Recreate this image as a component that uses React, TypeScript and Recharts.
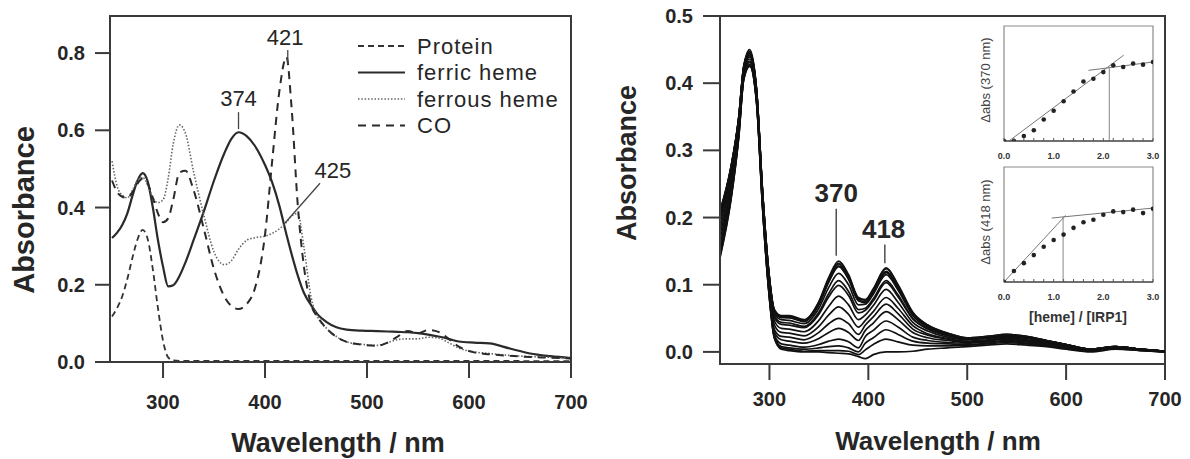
import React from 'react';
import { LineChart, Line, XAxis, YAxis, ReferenceArea, ReferenceLine, ReferenceDot } from 'recharts';

const FONT = '"Liberation Sans", Arial, Helvetica, sans-serif';
const INK = '#262626';
const AXIS = '#3a3a3a';

// ---------------- Panel A : spectra of IRP1 forms ----------------
const wlA = [250, 255, 260, 265, 270, 275, 280, 285, 290, 295, 300, 305, 310, 316, 322, 330, 340, 350, 360, 367,
  374, 382, 390, 400, 407, 414, 421, 426, 432, 438, 445, 452, 460, 470, 480, 495, 510, 520, 530, 540,
  550, 560, 570, 580, 590, 605, 620, 640, 660, 680, 700];
const proteinA = [0.118, 0.140, 0.170, 0.215, 0.270, 0.318, 0.342, 0.318, 0.240, 0.140,
  0.055, 0.012, 0.004, 0.003, 0.003, 0.003, 0.003, 0.003, 0.003, 0.003,
  0.003, 0.003, 0.003, 0.003, 0.003, 0.003, 0.003, 0.003, 0.003, 0.003,
  0.003, 0.003, 0.003, 0.003, 0.003, 0.003, 0.003, 0.003, 0.003, 0.003,
  0.003, 0.003, 0.003, 0.003, 0.003, 0.003, 0.003, 0.003, 0.002, 0.002, 0.002];
const ferricA = [0.321, 0.335, 0.355, 0.385, 0.430, 0.470, 0.489, 0.467, 0.400, 0.316,
  0.247, 0.196, 0.199, 0.222, 0.258, 0.316, 0.390, 0.470, 0.540, 0.578,
  0.595, 0.585, 0.560, 0.510, 0.465, 0.405, 0.330, 0.280, 0.225, 0.180,
  0.148, 0.122, 0.104, 0.090, 0.084, 0.081, 0.080, 0.079, 0.078, 0.077,
  0.075, 0.071, 0.066, 0.060, 0.053, 0.050, 0.048, 0.035, 0.022, 0.015, 0.010];
const ferrousA = [0.520, 0.455, 0.432, 0.425, 0.445, 0.470, 0.478, 0.458, 0.425, 0.413,
  0.420, 0.475, 0.565, 0.614, 0.592, 0.492, 0.380, 0.285, 0.252, 0.262,
  0.292, 0.315, 0.322, 0.326, 0.333, 0.345, 0.362, 0.378, 0.385, 0.300,
  0.170, 0.115, 0.088, 0.066, 0.052, 0.046, 0.043, 0.050, 0.058, 0.060,
  0.060, 0.064, 0.062, 0.050, 0.036, 0.026, 0.022, 0.017, 0.014, 0.012, 0.010];
const coA = [0.470, 0.440, 0.428, 0.425, 0.440, 0.462, 0.475, 0.462, 0.425, 0.385,
  0.362, 0.372, 0.420, 0.490, 0.495, 0.445, 0.345, 0.240, 0.170, 0.145,
  0.137, 0.150, 0.190, 0.330, 0.520, 0.700, 0.790, 0.660, 0.410, 0.250,
  0.150, 0.115, 0.088, 0.065, 0.052, 0.045, 0.042, 0.050, 0.066, 0.080,
  0.074, 0.083, 0.078, 0.060, 0.040, 0.025, 0.020, 0.016, 0.013, 0.011, 0.009];
const ticksXA = [300, 400, 500, 600, 700];
const ticksYA = [0, 0.2, 0.4, 0.6, 0.8];
const domainXA = [248, 700];
const domainYA = [0, 0.896];

const seriesA = [
  { key: 'protein', name: 'Protein', values: proteinA, color: '#333', width: 1.8, dash: '6 4' },
  { key: 'ferric', name: 'ferric heme', values: ferricA, color: '#2a2a2a', width: 2.2, dash: undefined },
  { key: 'ferrous', name: 'ferrous heme', values: ferrousA, color: '#666', width: 1.6, dash: '1.5 1.8' },
  { key: 'co', name: 'CO', values: coA, color: '#2a2a2a', width: 2, dash: '8 6' },
];

const peakLabelsA = [
  { label: '374', tx: 374, ty: 0.683, x1: 374, y1: 0.647, x2: 374, y2: 0.603 },
  { label: '421', tx: 419.6, ty: 0.841, x1: 422.3, y1: 0.808, x2: 422.3, y2: 0.772 },
  { label: '425', tx: 466.6, ty: 0.497, x1: 453.9, y1: 0.463, x2: 419.6, y2: 0.36 },
];

// ---------------- Panel B : heme titration ----------------
const wlB = [250, 261, 269, 274, 280, 287, 293, 299, 305, 312, 320, 335, 350, 360, 370, 380, 390, 397, 405, 418,
  430, 445, 460, 480, 500, 520, 540, 560, 580, 600, 625, 650, 675, 700];
const t0 = [0.140, 0.225, 0.320, 0.405, 0.425, 0.370, 0.215, 0.095, 0.020, 0.004, 0.002, 0.000, 0.000, -0.001, -0.002, -0.003, -0.007, -0.010, -0.004, 0.000, 0.000, 0.001, 0.004, 0.006, 0.008, 0.010, 0.012, 0.010, 0.008, 0.004, 0.000, 0.004, 0.002, 0.000];
const t1 = [0.142, 0.227, 0.321, 0.406, 0.426, 0.371, 0.216, 0.096, 0.021, 0.006, 0.004, 0.001, 0.002, 0.002, 0.002, 0.001, -0.004, 0.003, 0.011, 0.019, 0.015, 0.010, 0.009, 0.009, 0.010, 0.012, 0.014, 0.012, 0.009, 0.005, 0.001, 0.005, 0.002, 0.000];
const t2 = [0.146, 0.229, 0.322, 0.407, 0.427, 0.372, 0.217, 0.097, 0.023, 0.008, 0.006, 0.004, 0.006, 0.008, 0.009, 0.006, 0.000, 0.013, 0.021, 0.033, 0.026, 0.016, 0.013, 0.012, 0.011, 0.013, 0.016, 0.013, 0.010, 0.006, 0.001, 0.005, 0.003, 0.000];
const t3 = [0.151, 0.233, 0.325, 0.408, 0.428, 0.373, 0.219, 0.100, 0.025, 0.012, 0.010, 0.007, 0.011, 0.016, 0.019, 0.015, 0.006, 0.023, 0.032, 0.046, 0.037, 0.022, 0.017, 0.014, 0.013, 0.015, 0.017, 0.015, 0.011, 0.007, 0.002, 0.005, 0.003, 0.000];
const t4 = [0.159, 0.239, 0.328, 0.410, 0.431, 0.375, 0.222, 0.103, 0.029, 0.018, 0.016, 0.013, 0.020, 0.029, 0.035, 0.029, 0.017, 0.032, 0.043, 0.060, 0.048, 0.029, 0.021, 0.017, 0.014, 0.016, 0.019, 0.016, 0.012, 0.007, 0.002, 0.006, 0.003, 0.000];
const t5 = [0.167, 0.244, 0.331, 0.413, 0.433, 0.378, 0.225, 0.106, 0.033, 0.023, 0.022, 0.018, 0.029, 0.042, 0.050, 0.042, 0.026, 0.040, 0.052, 0.071, 0.057, 0.034, 0.025, 0.019, 0.015, 0.017, 0.020, 0.017, 0.013, 0.008, 0.002, 0.006, 0.003, 0.001];
const t6 = [0.175, 0.250, 0.335, 0.415, 0.436, 0.380, 0.228, 0.110, 0.040, 0.029, 0.028, 0.024, 0.038, 0.055, 0.067, 0.056, 0.037, 0.047, 0.060, 0.081, 0.065, 0.039, 0.027, 0.020, 0.016, 0.018, 0.021, 0.018, 0.014, 0.009, 0.003, 0.007, 0.003, 0.001];
const t7 = [0.183, 0.256, 0.339, 0.417, 0.439, 0.382, 0.231, 0.114, 0.046, 0.035, 0.034, 0.030, 0.047, 0.068, 0.083, 0.070, 0.048, 0.055, 0.069, 0.093, 0.074, 0.044, 0.031, 0.022, 0.018, 0.020, 0.022, 0.020, 0.015, 0.009, 0.003, 0.007, 0.003, 0.001];
const t8 = [0.192, 0.262, 0.342, 0.420, 0.441, 0.385, 0.234, 0.117, 0.051, 0.041, 0.040, 0.036, 0.056, 0.082, 0.099, 0.084, 0.058, 0.062, 0.076, 0.103, 0.082, 0.049, 0.034, 0.024, 0.019, 0.021, 0.023, 0.021, 0.015, 0.010, 0.003, 0.007, 0.004, 0.001];
const t9 = [0.195, 0.265, 0.344, 0.421, 0.442, 0.386, 0.235, 0.119, 0.054, 0.044, 0.043, 0.038, 0.059, 0.087, 0.106, 0.090, 0.063, 0.065, 0.079, 0.106, 0.085, 0.050, 0.035, 0.025, 0.019, 0.021, 0.024, 0.021, 0.016, 0.010, 0.003, 0.007, 0.004, 0.001];
const t10 = [0.201, 0.269, 0.346, 0.422, 0.444, 0.387, 0.237, 0.121, 0.057, 0.048, 0.047, 0.042, 0.065, 0.096, 0.117, 0.100, 0.070, 0.071, 0.086, 0.115, 0.092, 0.054, 0.037, 0.026, 0.020, 0.022, 0.025, 0.022, 0.016, 0.010, 0.004, 0.008, 0.004, 0.001];
const t11 = [0.207, 0.273, 0.349, 0.424, 0.446, 0.389, 0.239, 0.124, 0.061, 0.052, 0.051, 0.046, 0.071, 0.105, 0.128, 0.109, 0.077, 0.074, 0.090, 0.120, 0.096, 0.057, 0.039, 0.027, 0.020, 0.022, 0.025, 0.022, 0.017, 0.011, 0.004, 0.008, 0.004, 0.001];
const t12 = [0.206, 0.272, 0.348, 0.424, 0.446, 0.389, 0.238, 0.123, 0.060, 0.051, 0.051, 0.045, 0.070, 0.104, 0.127, 0.108, 0.076, 0.074, 0.089, 0.119, 0.095, 0.056, 0.038, 0.027, 0.020, 0.022, 0.025, 0.022, 0.017, 0.011, 0.004, 0.008, 0.004, 0.001];
const t13 = [0.209, 0.274, 0.349, 0.425, 0.447, 0.390, 0.240, 0.124, 0.062, 0.053, 0.053, 0.047, 0.074, 0.109, 0.132, 0.113, 0.079, 0.077, 0.093, 0.124, 0.099, 0.058, 0.040, 0.028, 0.021, 0.023, 0.026, 0.023, 0.017, 0.011, 0.004, 0.008, 0.004, 0.001];
const t14 = [0.208, 0.274, 0.349, 0.424, 0.446, 0.389, 0.239, 0.124, 0.062, 0.053, 0.052, 0.047, 0.073, 0.108, 0.131, 0.111, 0.078, 0.073, 0.088, 0.118, 0.094, 0.056, 0.038, 0.027, 0.020, 0.022, 0.025, 0.022, 0.016, 0.011, 0.004, 0.008, 0.004, 0.001];
const t15 = [0.210, 0.275, 0.350, 0.425, 0.450, 0.390, 0.240, 0.125, 0.063, 0.054, 0.054, 0.048, 0.075, 0.111, 0.135, 0.115, 0.081, 0.078, 0.094, 0.125, 0.100, 0.059, 0.040, 0.028, 0.021, 0.023, 0.026, 0.023, 0.017, 0.011, 0.004, 0.008, 0.004, 0.001];
const titration = [t0, t1, t2, t3, t4, t5, t6, t7, t8, t9, t10, t11, t12, t13, t14, t15];
const ticksXB = [300, 400, 500, 600, 700];
const ticksYB = [0, 0.1, 0.2, 0.3, 0.4, 0.5];
const domainXB = [250, 700];
const domainYB = [-0.018, 0.5];

const peakLabelsB = [
  { label: '370', tx: 367.5, ty: 0.237, x1: 367.5, y1: 0.213, x2: 367.5, y2: 0.143 },
  { label: '418', tx: 415.5, ty: 0.184, x1: 416.7, y1: 0.160, x2: 416.7, y2: 0.132 },
];

// ---------------- Insets ----------------
const ratio = [0, 0.2, 0.4, 0.6, 0.8, 1.0, 1.2, 1.4, 1.6, 1.8, 2.0, 2.2, 2.4, 2.6, 2.8, 3.0];
const dAbs370 = [0, 0, 0.044, 0.094, 0.187, 0.263, 0.345, 0.430, 0.518, 0.541, 0.599, 0.658, 0.643, 0.673, 0.664, 0.687];
const dAbs418 = [0, 0.096, 0.164, 0.234, 0.307, 0.365, 0.412, 0.471, 0.520, 0.541, 0.585, 0.614, 0.608, 0.629, 0.599, 0.637];
const fit370rise = [{ x: 0.1, y: 0 }, { x: 2.41, y: 0.746 }];
const fit370flat = [{ x: 1.7, y: 0.614 }, { x: 3.0, y: 0.687 }];
const drop370 = [{ x: 2.12, y: 0 }, { x: 2.12, y: 0.64 }];
const fit418rise = [{ x: 0, y: 0 }, { x: 1.24, y: 0.579 }];
const fit418flat = [{ x: 0.96, y: 0.556 }, { x: 3.0, y: 0.643 }];
const drop418 = [{ x: 1.19, y: 0 }, { x: 1.19, y: 0.57 }];
const insetTicks = [0, 0.2, 0.4, 0.6, 0.8, 1.0, 1.2, 1.4, 1.6, 1.8, 2.0, 2.2, 2.4, 2.6, 2.8, 3.0];

const tickStyle = { fontSize: 20, fontWeight: 700, fill: INK, fontFamily: FONT };

function PanelA() {
  const rows = wlA.map((wl, i) => {
    const r: any = { wl };
    seriesA.forEach((s) => { r[s.key] = s.values[i]; });
    return r;
  });
  return (
    <LineChart width={590} height={459} data={rows} margin={{ top: 16, right: 19, bottom: 47, left: 50 }}>
      <XAxis dataKey="wl" type="number" domain={domainXA} ticks={ticksXA} allowDataOverflow height={50}
        tickSize={16} tickMargin={17} axisLine={{ stroke: AXIS, strokeWidth: 2 }} tickLine={{ stroke: AXIS, strokeWidth: 2 }} tick={tickStyle} />
      <YAxis type="number" domain={domainYA} ticks={ticksYA} allowDataOverflow width={60}
        tickSize={15} tickMargin={10} axisLine={{ stroke: AXIS, strokeWidth: 2 }} tickLine={{ stroke: AXIS, strokeWidth: 2 }}
        tick={tickStyle} tickFormatter={(v: number) => v.toFixed(1)} />
      <ReferenceArea x1={domainXA[0]} x2={domainXA[1]} y1={domainYA[0]} y2={domainYA[1]} fill="none" fillOpacity={0} stroke={AXIS} strokeWidth={2} />
      {seriesA.map((s) => (
        <Line key={s.key} type="monotone" dataKey={s.key} name={s.name} stroke={s.color} strokeWidth={s.width}
          strokeDasharray={s.dash} dot={false} activeDot={false} isAnimationActive={false} />
      ))}
      {peakLabelsA.map((p) => (
        <ReferenceLine key={'l' + p.label} segment={[{ x: p.x1, y: p.y1 }, { x: p.x2, y: p.y2 }]} stroke="#444" strokeWidth={1.3} />
      ))}
      {peakLabelsA.map((p) => (
        <ReferenceDot key={'d' + p.label} x={p.tx} y={p.ty} r={0} fill="none" stroke="none"
          label={{ value: p.label, position: 'center', fontSize: 22, fill: INK, fontFamily: FONT }} />
      ))}
    </LineChart>
  );
}

function PanelB() {
  const rows = wlB.map((wl, i) => {
    const r: any = { wl };
    titration.forEach((arr, k) => { r['c' + k] = arr[i]; });
    return r;
  });
  return (
    <LineChart width={590} height={459} data={rows} margin={{ top: 16, right: 25, bottom: 45, left: 60 }}>
      <XAxis dataKey="wl" type="number" domain={domainXB} ticks={ticksXB} allowDataOverflow height={50}
        tickSize={16} tickMargin={12} axisLine={{ stroke: AXIS, strokeWidth: 2 }} tickLine={{ stroke: AXIS, strokeWidth: 2 }} tick={tickStyle} />
      <YAxis type="number" domain={domainYB} ticks={ticksYB} allowDataOverflow width={60}
        tickSize={17} tickMargin={10} axisLine={{ stroke: AXIS, strokeWidth: 2 }} tickLine={{ stroke: AXIS, strokeWidth: 2 }}
        tick={tickStyle} tickFormatter={(v: number) => v.toFixed(1)} />
      <ReferenceArea x1={domainXB[0]} x2={domainXB[1]} y1={domainYB[0]} y2={domainYB[1]} fill="none" fillOpacity={0} stroke={AXIS} strokeWidth={2} />
      {titration.map((_, k) => (
        <Line key={k} type="monotone" dataKey={'c' + k} stroke="#111" strokeWidth={1.7} dot={false} activeDot={false} isAnimationActive={false} />
      ))}
      {peakLabelsB.map((p) => (
        <ReferenceLine key={'l' + p.label} segment={[{ x: p.x1, y: p.y1 }, { x: p.x2, y: p.y2 }]} stroke="#333" strokeWidth={1.3} />
      ))}
      {peakLabelsB.map((p) => (
        <ReferenceDot key={'d' + p.label} x={p.tx} y={p.ty} r={0} fill="none" stroke="none"
          label={{ value: p.label, position: 'center', fontSize: 26, fontWeight: 700, fill: INK, fontFamily: FONT }} />
      ))}
    </LineChart>
  );
}

function InsetTick(props: any) {
  const { x, y, payload } = props;
  const v = payload.value as number;
  const major = Math.abs(v - Math.round(v)) < 1e-6;
  return (
    <g>
      <line x1={x} x2={x} y1={y} y2={y - 3} stroke="#555" strokeWidth={1} />
      {major && (
        <text x={x} y={y + 15} textAnchor="middle" dominantBaseline="central" fontSize={9} fontWeight={700} fill="#333" fontFamily={FONT}>
          {v.toFixed(1)}
        </text>
      )}
    </g>
  );
}

function Inset({ values, rise, flat, drop }: any) {
  const pts = ratio.map((x, i) => ({ x, y: values[i] }));
  return (
    <LineChart width={200} height={150} margin={{ top: 6, right: 7, bottom: 9, left: 44 }}>
      <XAxis dataKey="x" type="number" domain={[0, 3]} ticks={insetTicks} allowDataOverflow height={20}
        tickSize={0} tickMargin={0} tickLine={false} axisLine={{ stroke: '#555', strokeWidth: 1.3 }} tick={<InsetTick />} interval={0} />
      <YAxis type="number" domain={[0, 1]} hide allowDataOverflow />
      <ReferenceArea x1={0} x2={3} y1={0} y2={1} fill="none" fillOpacity={0} stroke="#8a8a8a" strokeWidth={1.2} />
      <Line data={rise} dataKey="y" type="linear" stroke="#777" strokeWidth={1} dot={false} activeDot={false} isAnimationActive={false} />
      <Line data={flat} dataKey="y" type="linear" stroke="#777" strokeWidth={1} dot={false} activeDot={false} isAnimationActive={false} />
      <Line data={drop} dataKey="y" type="linear" stroke="#888" strokeWidth={1} dot={false} activeDot={false} isAnimationActive={false} />
      <Line data={pts} dataKey="y" type="linear" stroke="none" strokeWidth={0}
        dot={{ r: 2.3, fill: '#222', stroke: 'none' }} activeDot={false} isAnimationActive={false} />
    </LineChart>
  );
}

function Overlay() {
  const legendTop = 46;
  const legendStep = 26.5;
  return (
    <svg width={1190} height={459} style={{ position: 'absolute', left: 0, top: 0, pointerEvents: 'none' }}>
      {seriesA.map((s, i) => {
        const y = legendTop + i * legendStep;
        return (
          <g key={s.key}>
            <line x1={358} x2={405} y1={y} y2={y} stroke={s.color} strokeWidth={s.width} strokeDasharray={s.dash} />
            <text x={417} y={y} dominantBaseline="central" fontSize={22} letterSpacing={1} fill={INK} fontFamily={FONT}>{s.name}</text>
          </g>
        );
      })}
      <text x={24} y={210} transform="rotate(-90 24 210)" textAnchor="middle" dominantBaseline="central" fontSize={29} fontWeight={700} fill={INK} fontFamily={FONT}>Absorbance</text>
      <text x={338} y={443} textAnchor="middle" dominantBaseline="central" fontSize={27} fontWeight={700} fill={INK} fontFamily={FONT}>Wavelength / nm</text>
      <text x={627} y={163} transform="rotate(-90 627 163)" textAnchor="middle" dominantBaseline="central" fontSize={27} fontWeight={700} fill={INK} fontFamily={FONT}>Absorbance</text>
      <text x={938} y={441} textAnchor="middle" dominantBaseline="central" fontSize={26} fontWeight={700} fill={INK} fontFamily={FONT}>Wavelength / nm</text>
      <text x={985} y={80} transform="rotate(-90 985 80)" textAnchor="middle" dominantBaseline="central" fontSize={13} fill="#444" fontFamily={FONT}>Δabs (370 nm)</text>
      <text x={985} y={222} transform="rotate(-90 985 222)" textAnchor="middle" dominantBaseline="central" fontSize={13} fill="#444" fontFamily={FONT}>Δabs (418 nm)</text>
      <text x={1078} y={317} textAnchor="middle" dominantBaseline="central" fontSize={14} fontWeight={700} fill="#333" fontFamily={FONT}>[heme] / [IRP1]</text>
    </svg>
  );
}

export default function App() {
  return (
    <div style={{ position: 'absolute', left: 0, top: 0, width: 1190, height: 459, background: '#fff', fontFamily: FONT, overflow: 'hidden' }}>
      <div style={{ position: 'absolute', left: 0, top: 0 }}><PanelA /></div>
      <div style={{ position: 'absolute', left: 600, top: 0 }}><PanelB /></div>
      <div style={{ position: 'absolute', left: 960, top: 20 }}>
        <Inset values={dAbs370} rise={fit370rise} flat={fit370flat} drop={drop370} />
      </div>
      <div style={{ position: 'absolute', left: 960, top: 161 }}>
        <Inset values={dAbs418} rise={fit418rise} flat={fit418flat} drop={drop418} />
      </div>
      <Overlay />
    </div>
  );
}
